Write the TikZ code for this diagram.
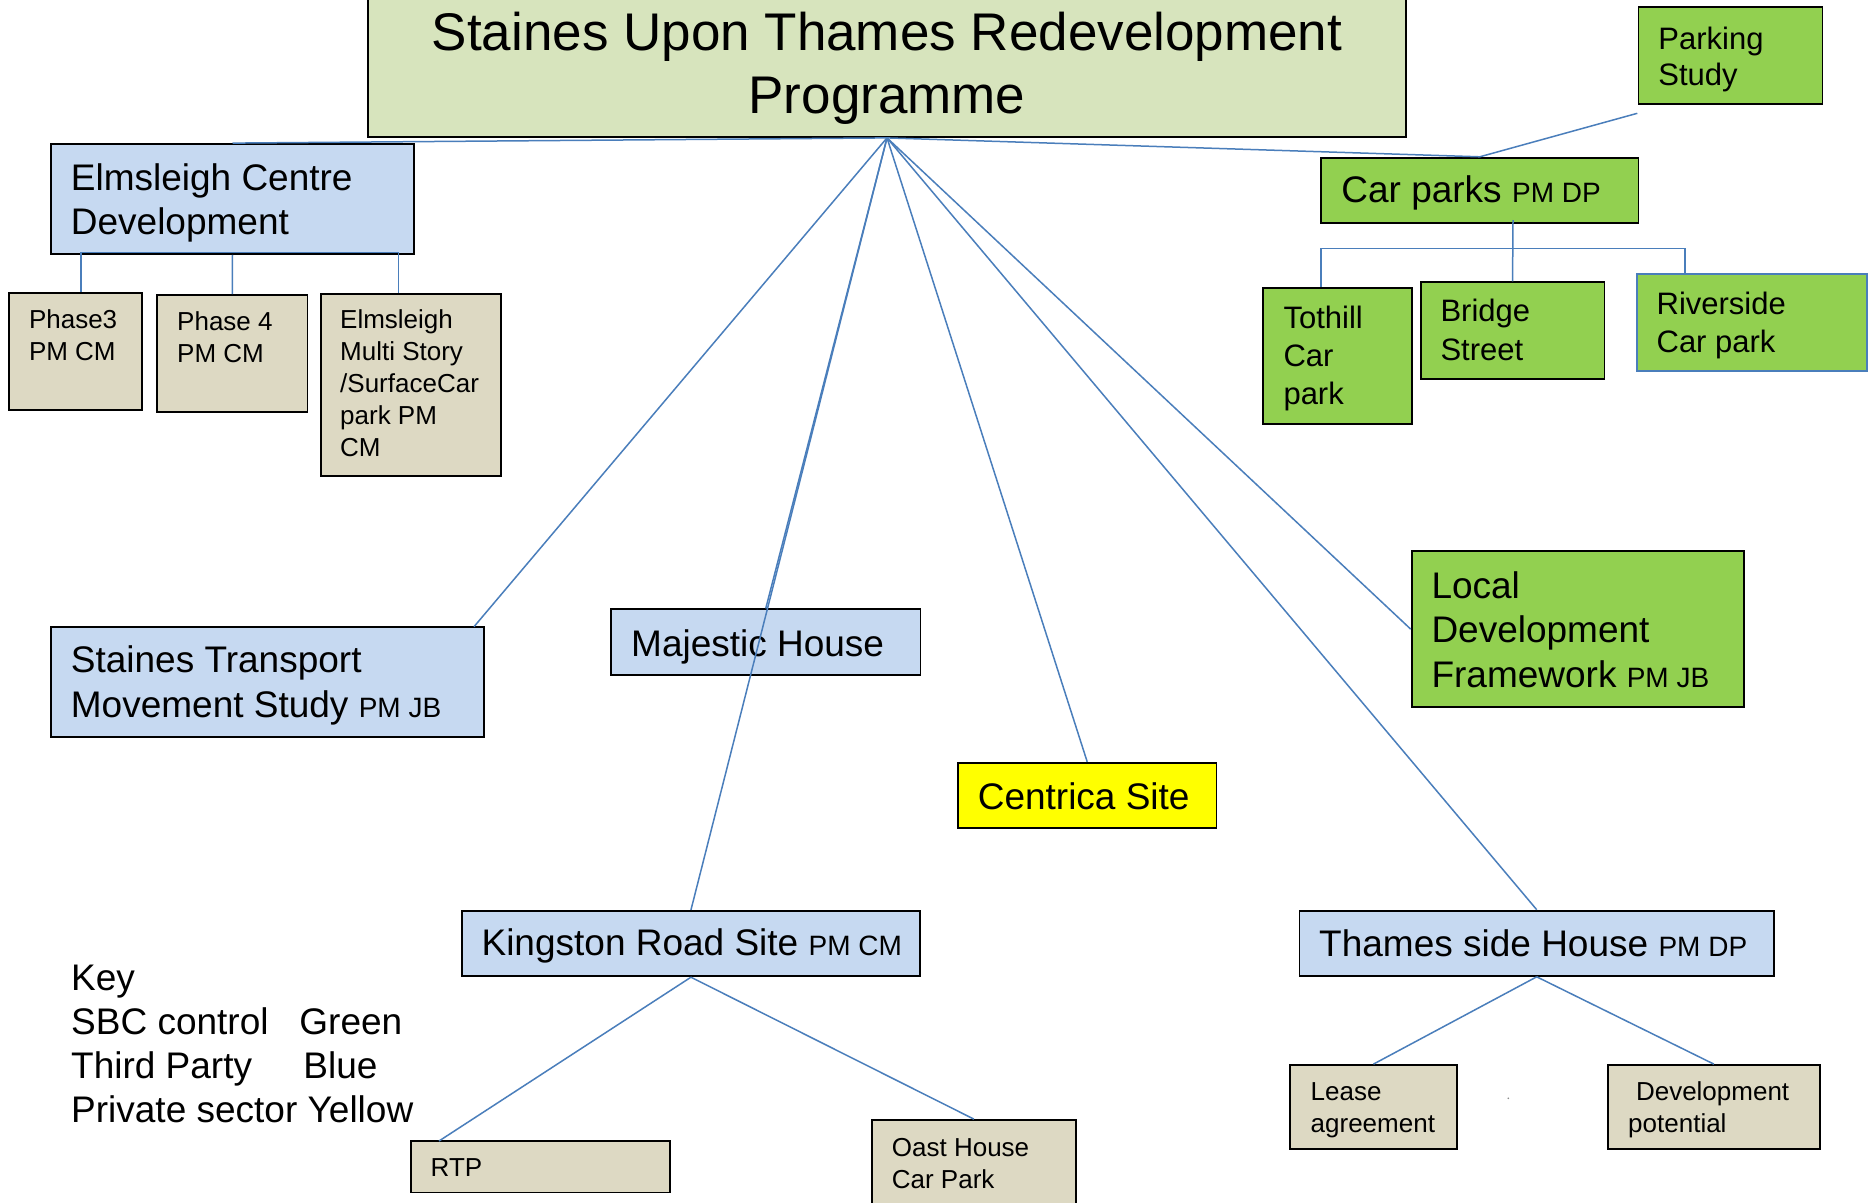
\documentclass[tikz,border=0pt]{standalone}
\usepackage{fontspec}
\setmainfont{Liberation Sans}
\usetikzlibrary{fit}
\definecolor{titlefill}{HTML}{D7E4BD}
\definecolor{thirdblue}{HTML}{C6D9F1}
\definecolor{sbcgreen}{HTML}{92D050}
\definecolor{privyellow}{HTML}{FFFF00}
\definecolor{taskfill}{HTML}{DDD9C3}
\definecolor{linkblue}{HTML}{4A7EBB}
\newcommand\fsTitle{\fontsize{53}{63.3}\selectfont}
\newcommand\fsMain{\fontsize{37}{44.6}\selectfont}
\newcommand\fsMid{\fontsize{31}{38.3}\selectfont}
\newcommand\fsSmall{\fontsize{26}{32}\selectfont}
\newcommand\who[1]{{\fontsize{28}{28}\selectfont #1}}
\begin{document}
% text nodes are placed by the baseline of their last line
\begin{tikzpicture}[x=1pt,y=-1pt,
  box/.style={draw=black, line width=1.8pt, rectangle, inner sep=0pt},
  third/.style={box, fill=thirdblue},
  sbc/.style={box, fill=sbcgreen},
  task/.style={box, fill=taskfill},
  lbl/.style={anchor=base west, align=left, inner sep=0pt, text=black},
  conn/.style={draw=linkblue, line width=1.5pt}]
\useasboundingbox[fill=white] (0,0) rectangle (1876,1202);

% programme title
\node[box, fill=titlefill, fit={(368,-6) (1406,137)}] (prog) {};
\node[anchor=base, align=center, inner sep=0pt, font=\fsTitle] (prog-t) at (887,113.3)
  {Staines Upon Thames Redevelopment\\Programme};

% Elmsleigh Centre and its phases
\node[third, fit={(51,144) (414,254)}] (elm) {};
\node[lbl, font=\fsMain] (elm-t) at (70.7,234.6) {Elmsleigh Centre\\Development};
\node[task, fit={(9,293) (142,410)}] (ph3) {};
\node[lbl, font=\fsSmall] (ph3-t) at (28.8,360) {Phase3\\PM CM};
\node[task, fit={(157,295) (307.5,411.7)}] (ph4) {};
\node[lbl, font=\fsSmall] (ph4-t) at (177,362) {Phase 4\\PM CM};
\node[task, fit={(320.7,294) (500.6,475.7)}] (ems) {};
\node[lbl, font=\fsSmall] (ems-t) at (340,456.3) {Elmsleigh\\Multi Story\\/SurfaceCar\\park PM\\CM};

% other third-party projects
\node[third, fit={(51,626.7) (483.8,736.8)}] (stm) {};
\node[lbl, font=\fsMain] (stm-t) at (70.7,717.4) {Staines Transport\\Movement Study \who{PM JB}};
\node[third, fit={(611,609.3) (920.5,674.7)}] (maj) {};
\node[lbl, font=\fsMain] (maj-t) at (631,656) {Majestic House};
\node[third, fit={(461.6,910.8) (920.3,976.3)}] (krs) {};
\node[lbl, font=\fsMain] (krs-t) at (481.4,955.8) {Kingston Road Site \who{PM CM}};
\node[task, fit={(410.7,1141) (669.7,1192.4)}] (rtp) {};
\node[lbl, font=\fsSmall] (rtp-t) at (430.5,1176) {RTP};
\node[task, fit={(871.7,1120) (1076,1215)}] (oas) {};
\node[lbl, font=\fsSmall] (oas-t) at (891.7,1188) {Oast House\\Car Park};

% private sector
\node[box, fill=privyellow, fit={(958,762.7) (1216.4,828)}] (cen) {};
\node[lbl, font=\fsMain] (cen-t) at (977.6,809.3) {Centrica Site};

% Thames side House and its tasks
\node[third, fit={(1299.4,910.6) (1774,975.9)}] (tsh) {};
\node[lbl, font=\fsMain] (tsh-t) at (1319,956.3) {Thames side House \who{PM DP}};
\node[task, fit={(1290.3,1065) (1456.6,1149.3)}] (lea) {};
\node[lbl, font=\fsSmall] (lea-t) at (1310.5,1132.6) {Lease\\agreement};
\node[task, fit={(1607.7,1065) (1820,1149.3)}] (dev) {};
\node[lbl, font=\fsSmall] (dev-t) at (1628,1132.6) {\hspace*{7.8pt}Development\\potential};
\fill[black!45] (1508.3,1098.3) circle (0.9);

% council-controlled work
\node[sbc, fit={(1411.6,551.3) (1743.6,707)}] (ldf) {};
\node[lbl, font=\fsMain] (ldf-t) at (1431.3,687.5) {Local\\Development\\Framework \who{PM JB}};
\node[sbc, fit={(1638.5,7.3) (1822.4,104)}] (pks) {};
\node[lbl, font=\fontsize{31}{35.7}\selectfont] (pks-t) at (1658.2,85) {Parking\\Study};
\node[sbc, fit={(1321,157.7) (1638.5,222.7)}] (cp) {};
\node[lbl, font=\fsMain] (cp-t) at (1341.2,202.7) {Car parks \who{PM DP}};
\node[sbc, fit={(1263,288.3) (1411.6,424)}] (tot) {};
\node[lbl, font=\fsMid] (tot-t) at (1283.3,404.9) {Tothill\\Car\\park};
\node[sbc, fit={(1420.6,282.3) (1604.5,379)}] (bri) {};
\node[lbl, font=\fsMid] (bri-t) at (1440.3,360) {Bridge\\Street};
\node[sbc, draw=linkblue, fit={(1636.7,274) (1867.2,370.7)}] (riv) {};
\node[lbl, font=\fsMid] (riv-t) at (1656.4,352.3) {Riverside\\Car park};

% key
\node[lbl, font=\fontsize{37}{44.3}\selectfont] (key) at (71,1122.9)
  {Key\\SBC control\ \ \ Green\\Third Party\ \ \ \ \ Blue\\Private sector Yellow};

% connector end points that are not box centres
\coordinate (stmTop) at (474,626.7);
\coordinate (pksFoot) at (1637.3,113.3);
\coordinate (rtpTop) at (439,1141);
\coordinate (elmBarL) at (81,252.3);
\coordinate (elmBarR) at (398.7,252.3);
\coordinate (cpDrop) at (1513,220);
\coordinate (cpBarL) at (1321,248.3);
\coordinate (cpBarR) at (1685,248.3);

% links from the programme
\draw[conn] (prog.south) -- (elm.north);
\draw[conn] (prog.south) -- (cp.north);
\draw[conn] (prog.south) -- (stmTop);
\draw[conn] (prog.south) -- (maj.north);
\draw[conn] (prog.south) -- (krs.north);
\draw[conn] (prog.south) -- (cen.north);
\draw[conn] (prog.south) -- (tsh.north);
\draw[conn] (prog.south) -- (ldf.west);

% Elmsleigh tree
\draw[conn] (elmBarL) -- (elmBarR);
\draw[conn] (elmBarL) -- (elmBarL |- ph3.north);
\draw[conn] (elm.south) -- (ph4.north);
\draw[conn] (elmBarR) -- (elmBarR |- ems.north);

% car park tree
\draw[conn] (pksFoot) -- (cp.north);
\draw[conn] (cpDrop) -- (bri.north);
\draw[conn] (cpBarL) -- (cpBarR);
\draw[conn] (cpBarL) -- (cpBarL |- tot.north);
\draw[conn] (cpBarR) -- (cpBarR |- riv.north);

% lower trees
\draw[conn] (krs.south) -- (rtpTop);
\draw[conn] (krs.south) -- (oas.north);
\draw[conn] (tsh.south) -- (lea.north);
\draw[conn] (tsh.south) -- (dev.north);
\end{tikzpicture}
\end{document}
